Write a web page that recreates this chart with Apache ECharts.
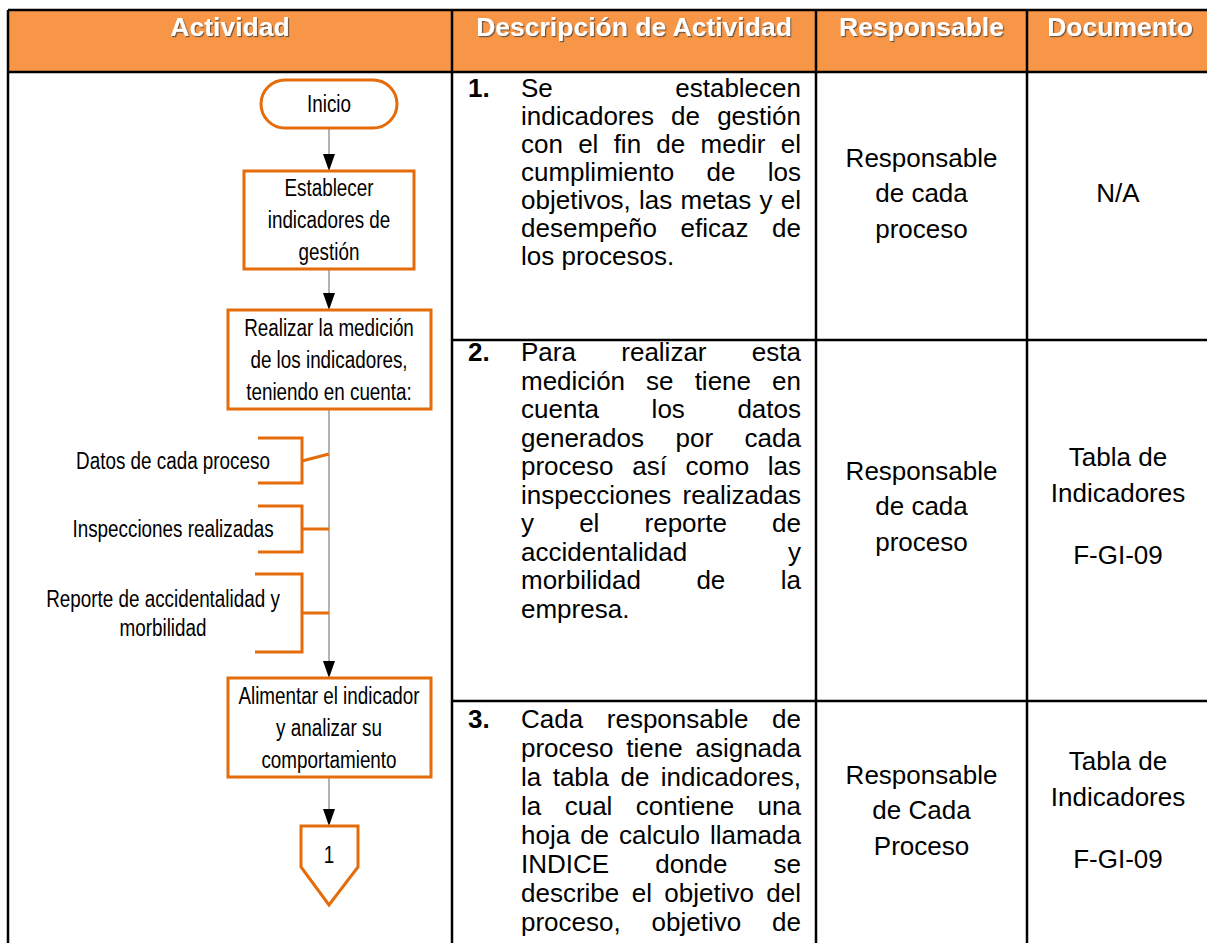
<!DOCTYPE html>
<html><head><meta charset="utf-8">
<script src="https://cdn.jsdelivr.net/npm/echarts@6/dist/echarts.min.js"></script>
<style>html,body{margin:0;padding:0;background:#fff}#c{width:1207px;height:943px}</style>
</head><body><div id="c"></div>
<script>
// ---------- content ----------
const headers = ["Actividad", "Descripción de Actividad", "Responsable", "Documento"];
const stepNumbers = ["1.", "2.", "3."];
const descLines1 = ["Se establecen", "indicadores de gestión", "con el fin de medir el", "cumplimiento de los", "objetivos, las metas y el", "desempeño eficaz de", "los procesos."];
const descLines2 = ["Para realizar esta", "medición se tiene en", "cuenta los datos", "generados por cada", "proceso así como las", "inspecciones realizadas", "y el reporte de", "accidentalidad y", "morbilidad de la", "empresa."];
const descLines3 = ["Cada responsable de", "proceso tiene asignada", "la tabla de indicadores,", "la cual contiene una", "hoja de calculo llamada", "INDICE donde se", "describe el objetivo del", "proceso, objetivo de"];
const descParagraphEnds = [true, true, false];
const responsables = [["Responsable", "de cada", "proceso"], ["Responsable", "de cada", "proceso"], ["Responsable", "de Cada", "Proceso"]];
const documentos = [["N/A"], ["Tabla de", "Indicadores", "F-GI-09"], ["Tabla de", "Indicadores", "F-GI-09"]];
const flowStart = "Inicio";
const flowBoxes = [["Establecer", "indicadores de", "gestión"], ["Realizar la medición", "de los indicadores,", "teniendo en cuenta:"], ["Alimentar el indicador", "y analizar su", "comportamiento"]];
const flowInputs = [["Datos de cada proceso"], ["Inspecciones realizadas"], ["Reporte de accidentalidad y", "morbilidad"]];
const connectorLabel = "1";

// ---------- layout ----------
const colX = [8, 452, 816, 1027, 1213];
const tableTop = 10, headBottom = 72, rowLines = [340, 701];
const descFirstY = [88, 352, 719], descLH = [28, 28.5, 29], descL = 521, descR = 801, numX = 468;
const cellMid = [193, 506, 810];
const respLH = 35.5;
const docOffsets = { 1: [0], 3: [-49, -13, 49] };
const cx = 329;
const startBox = { x: 261, y: 80, w: 136, h: 48 };
const boxes = [{ x: 244, y: 171, w: 170, h: 98 }, { x: 228, y: 310, w: 203, h: 99 }, { x: 228, y: 678, w: 203, h: 99 }];
const conn = { l: 301, r: 358, top: 826, side: 867, tip: 905, label: 855 };
const brackets = [
  { top: 438, bottom: 483, left: 258, ly1: 461, ly2: 454, tx: 173 },
  { top: 506, bottom: 552, left: 258, ly1: 529, ly2: 529, tx: 173 },
  { top: 574, bottom: 652, left: 255, ly1: 613, ly2: 613, tx: 163 }
];
const bracketRight = 302;

const ORANGE = '#E46C0A', HEAD = '#F79646', GRAY = '#808080';
const FONT = 'Liberation Sans, Arial, Helvetica, sans-serif';
const BODY = 26, HEADER = 26.5, FLOW = 23, FLOW_SX = 0.82;

const ctx = document.createElement('canvas').getContext('2d');
function measure(t, font) { ctx.font = font; return ctx.measureText(t).width; }

const els = [];
function txt(text, x, y, o) {
  o = o || {};
  const size = o.size || BODY;
  const font = (o.bold ? 'bold ' : '') + size + 'px ' + FONT;
  const align = o.align || 'center';
  const style = { text, x: 0, y: 0, font, fill: o.fill || '#000', align, verticalAlign: 'middle', textAlign: align, textVerticalAlign: 'middle' };
  if (o.shadow) {
    Object.assign(style, { textShadowColor: 'rgba(60,60,60,0.75)', textShadowBlur: 1.5, textShadowOffsetX: 1.2, textShadowOffsetY: 1.2 });
  }
  els.push({ type: 'text', x, y, scaleX: o.sx || 1, silent: true, z: 20, style });
}
function line(x1, y1, x2, y2, color, w, z) {
  els.push({ type: 'line', silent: true, z: z || 10, shape: { x1, y1, x2, y2 }, style: { stroke: color, lineWidth: w } });
}

// header
els.push({ type: 'rect', silent: true, z: 1, shape: { x: colX[0], y: tableTop, width: 1207 - colX[0], height: headBottom - tableTop }, style: { fill: HEAD } });
headers.forEach((h, i) => txt(h, (colX[i] + colX[i + 1]) / 2, 27, { bold: true, size: HEADER, fill: '#fff', shadow: true }));

// grid lines
line(colX[0], tableTop, 1207, tableTop, '#000', 2.5, 15);
line(colX[0], headBottom, 1207, headBottom, '#000', 2.5, 15);
line(colX[0], tableTop, colX[0], 943, '#000', 2.5, 15);
[1, 2, 3].forEach(i => line(colX[i], tableTop, colX[i], 943, '#000', 2.5, 15));
rowLines.forEach(y => line(colX[1], y, 1207, y, '#000', 2.5, 15));

// descriptions (justified)
const descs = [descLines1, descLines2, descLines3];
const bodyFont = BODY + 'px ' + FONT;
descs.forEach((lines, r) => {
  txt(stepNumbers[r], numX, descFirstY[r], { bold: true, align: 'left' });
  lines.forEach((ln, i) => {
    const y = descFirstY[r] + i * descLH[r];
    const isLast = i === lines.length - 1 && descParagraphEnds[r];
    const words = ln.split(' ');
    if (isLast || words.length === 1) { txt(ln, descL, y, { align: 'left' }); return; }
    const ws = words.map(w => measure(w, bodyFont));
    const gap = (descR - descL - ws.reduce((a, b) => a + b, 0)) / (words.length - 1);
    let x = descL;
    words.forEach((w, k) => { txt(w, x, y, { align: 'left' }); x += ws[k] + gap; });
  });
});

// responsables / documentos
responsables.forEach((lines, r) => {
  lines.forEach((ln, i) => txt(ln, (colX[2] + colX[3]) / 2, cellMid[r] + (i - (lines.length - 1) / 2) * respLH));
});
documentos.forEach((lines, r) => {
  const offs = docOffsets[lines.length];
  lines.forEach((ln, i) => txt(ln, (colX[3] + colX[4]) / 2 - 2, cellMid[r] + offs[i]));
});

// flowchart
function arrow(y1, y2) {
  line(cx, y1, cx, y2 - 15, GRAY, 1.2, 5);
  els.push({ type: 'polygon', silent: true, z: 6, shape: { points: [[cx - 6, y2 - 17], [cx + 6, y2 - 17], [cx, y2]] }, style: { fill: '#000' } });
}
els.push({ type: 'rect', silent: true, z: 8, shape: { x: startBox.x, y: startBox.y, width: startBox.w, height: startBox.h, r: startBox.h / 2 }, style: { fill: '#fff', stroke: ORANGE, lineWidth: 3 } });
txt(flowStart, cx, startBox.y + startBox.h / 2, { size: FLOW, sx: FLOW_SX });
boxes.forEach((b, i) => {
  els.push({ type: 'rect', silent: true, z: 8, shape: { x: b.x, y: b.y, width: b.w, height: b.h }, style: { fill: '#fff', stroke: ORANGE, lineWidth: 3 } });
  const mid = b.y + b.h / 2;
  flowBoxes[i].forEach((ln, k) => txt(ln, cx, mid + (k - 1) * 32, { size: FLOW, sx: FLOW_SX }));
});
arrow(startBox.y + startBox.h, boxes[0].y);
arrow(boxes[0].y + boxes[0].h, boxes[1].y);
arrow(boxes[1].y + boxes[1].h, boxes[2].y);
arrow(boxes[2].y + boxes[2].h, conn.top);
els.push({ type: 'polygon', silent: true, z: 8, shape: { points: [[conn.l, conn.top], [conn.r, conn.top], [conn.r, conn.side], [cx, conn.tip], [conn.l, conn.side]] }, style: { fill: '#fff', stroke: ORANGE, lineWidth: 3 } });
txt(connectorLabel, cx, conn.label, { size: FLOW, sx: FLOW_SX });

brackets.forEach((b, i) => {
  els.push({ type: 'polyline', silent: true, z: 9, shape: { points: [[b.left, b.top], [bracketRight, b.top], [bracketRight, b.bottom], [b.left, b.bottom]] }, style: { stroke: ORANGE, lineWidth: 3, fill: null } });
  line(bracketRight, b.ly1, cx, b.ly2, ORANGE, 3, 9);
  const lines = flowInputs[i];
  lines.forEach((ln, k) => txt(ln, b.tx, b.ly1 + (k - (lines.length - 1) / 2) * 29, { size: FLOW, sx: FLOW_SX }));
});

const chart = echarts.init(document.getElementById('c'), null, { renderer: 'svg', width: 1207, height: 943 });
chart.setOption({ backgroundColor: '#fff', animation: false, graphic: { elements: els } });
</script>
</body></html>
